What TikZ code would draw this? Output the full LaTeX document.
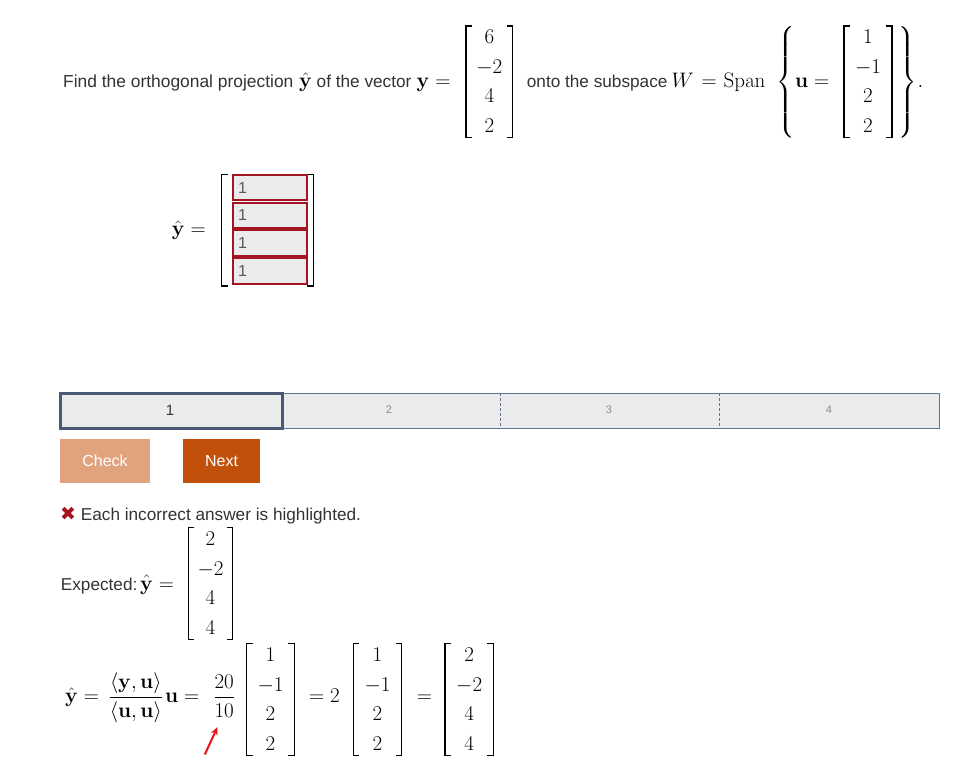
\RequirePackage{fix-cm}
\documentclass[tikz,border=0pt]{standalone}
\usepackage{amsmath}
\usepackage[no-math]{fontspec}
\newfontfamily\uif{Liberation Sans}
\newfontfamily\symf{DejaVu Sans}
\usetikzlibrary{arrows.meta}
\definecolor{txt}{RGB}{51,51,51}
\definecolor{inred}{RGB}{163,22,33}
\definecolor{inbg}{RGB}{235,235,235}
\definecolor{inval}{RGB}{90,90,90}
\definecolor{barline}{RGB}{95,117,151}
\definecolor{barsel}{RGB}{74,88,120}
\definecolor{barnum}{RGB}{140,140,140}
\definecolor{chk}{RGB}{224,163,125}
\definecolor{nxt}{RGB}{192,80,10}
\definecolor{xred}{RGB}{163,20,31}
\definecolor{arr}{RGB}{230,20,20}
\tikzset{
  ui/.style={font=\uif\fontsize{17.2}{20}\selectfont, text=txt, inner sep=0pt, anchor=base west},
  mth/.style={font=\fontsize{21}{25}\selectfont, inner sep=0pt, anchor=base west},
  ent/.style={font=\fontsize{21}{25}\selectfont, inner sep=0pt, anchor=base},
  brk/.style={line width=1.3pt},
  inbox/.style={draw=inred, line width=2pt, fill=inbg, minimum width=73.4pt, minimum height=25.5pt, inner sep=0pt},
  inval/.style={font=\uif\fontsize{16}{18}\selectfont, text=inval, inner sep=0pt, anchor=base west},
  barbox/.style={draw=barline, line width=1pt, fill=inbg, inner sep=0pt},
  barnum/.style={font=\uif\fontsize{11}{13}\selectfont, text=barnum, inner sep=0pt},
  btn/.style={text=white, font=\uif\fontsize{16}{18}\selectfont, inner sep=0pt, minimum height=44pt},
}
% #1 left x, #2 right x, #3 first baseline, #4-#7 entries
\newcommand\mvec[7]{%
  \pgfmathsetmacro\mtop{#3-18}%
  \pgfmathsetmacro\mbot{#3+93.5}%
  \pgfmathsetmacro\mcx{(#1+#2)/2}%
  \draw[brk] ({#1+6},\mtop) -- (#1,\mtop) -- (#1,\mbot) -- ({#1+6},\mbot);
  \draw[brk] ({#2-6},\mtop) -- (#2,\mtop) -- (#2,\mbot) -- ({#2-6},\mbot);
  \node[ent] at (\mcx,#3) {$#4$};
  \node[ent] at (\mcx,{#3+29.5}) {$#5$};
  \node[ent] at (\mcx,{#3+59}) {$#6$};
  \node[ent] at (\mcx,{#3+88.5}) {$#7$};
}
\begin{document}
\begin{tikzpicture}[x=1pt,y=-1pt]
\useasboundingbox[fill=white] (0,0) rectangle (970,781);

% ---- question line ----
\node[ui, font=\uif\fontsize{17.4}{20}\selectfont] (q1) at (63,87.5) {Find the orthogonal projection};
\node[mth] (q2) at (299,87.5) {$\hat{\mathbf{y}}$};
\node[ui] (q3) at (316.5,87.5) {of the vector};
\node[mth] (q4) at (416.5,87.5) {$\mathbf{y} =$};
\mvec{466}{512.7}{44}{6}{-2}{4}{2}
\node[ui] (q5) at (526.7,87.5) {onto the subspace};
\node[mth] (q6) at (671.5,87.5) {$W$};
\node[mth] (q6b) at (701.5,87.5) {$=$};
\node[mth] (q6c) at (723.5,87.5) {$\mathrm{Span}$};
\node[inner sep=0pt, font=\fontsize{21}{25}\selectfont] (lbr) at (786,82) {$\left\{\vcenter{\hbox{\rule{0pt}{112pt}}}\right.$};
\node[mth] (q7) at (795,87.5) {$\mathbf{u} =$};
\mvec{844}{892}{44}{1}{-1}{2}{2}
\node[inner sep=0pt, font=\fontsize{21}{25}\selectfont] (rbr) at (907.5,82) {$\left.\vcenter{\hbox{\rule{0pt}{112pt}}}\right\}$};
\node[mth] (q8) at (917.5,87.5) {$.$};

% ---- answer input ----
\node[mth] (a1) at (171.7,236) {$\hat{\mathbf{y}} =$};
\mvec{221.7}{313.3}{192.5}{}{}{}{}
\foreach \i in {0,1,2,3}{
  \node[inbox] (box\i) at (270,{187.75+27.7*\i}) {};
  \node[inval] (val\i) at (238,{193.3+27.7*\i}) {1};
}

% ---- progress bar ----
\node[barbox, minimum width=879pt, minimum height=35pt] (bar) at (499.5,410.5) {};
\draw[barline, line width=0.8pt, dash pattern=on 3pt off 2pt] (500,393) -- (500,428);
\draw[barline, line width=0.8pt, dash pattern=on 3pt off 2pt] (719,393) -- (719,428);
\node[draw=barsel, line width=3pt, minimum width=222pt, minimum height=35pt, inner sep=0pt] (seg1) at (171,410.5) {};
\node[font=\uif\fontsize{15}{17}\selectfont, text=txt, inner sep=0pt] (n1) at (170,410) {1};
\node[barnum] (n2) at (389,410) {2};
\node[barnum] (n3) at (609,410) {3};
\node[barnum] (n4) at (829,410) {4};

% ---- buttons ----
\node[btn, fill=chk, minimum width=90pt] (check) at (105,461) {Check};
\node[btn, fill=nxt, minimum width=77pt] (next) at (221.5,461) {Next};

% ---- feedback ----
\node[inner sep=0pt, text=xred, font=\symf\fontsize{19}{21}\selectfont] (xmark) at (68,513.5) {✖};
\node[ui] (fb) at (80.7,520) {Each incorrect answer is highlighted.};
\node[ui] (ex) at (60.7,590) {Expected:};
\node[mth] (exm) at (140,590) {$\hat{\mathbf{y}} =$};
\mvec{188.3}{232.7}{545.7}{2}{-2}{4}{4}

% ---- solution ----
\node[mth] (s1) at (65,702.8) {$\hat{\mathbf{y}} =$};
\node[ent] (s2) at (135.8,702.8) {$\dfrac{\langle \mathbf{y}, \mathbf{u}\rangle}{\langle \mathbf{u}, \mathbf{u}\rangle}$};
\node[mth] (s3) at (165,702.8) {$\mathbf{u} =$};
\node[ent] (s4) at (224.2,702.8) {$\dfrac{20}{10}$};
\mvec{246.7}{294.3}{661.7}{1}{-1}{2}{2}
\node[mth] (s5) at (309,702.8) {$= 2$};
\mvec{353.3}{401.7}{661.7}{1}{-1}{2}{2}
\node[mth] (s6) at (416.7,702.8) {$=$};
\mvec{445}{493.3}{661.7}{2}{-2}{4}{4}

% ---- red arrow ----
\coordinate (atail) at (204.8,754.5);
\coordinate (ahead) at (217.5,727);
\draw[arr, line width=2pt, -{Stealth[length=8pt,width=7pt]}] (atail) -- (ahead);
\end{tikzpicture}
\end{document}
